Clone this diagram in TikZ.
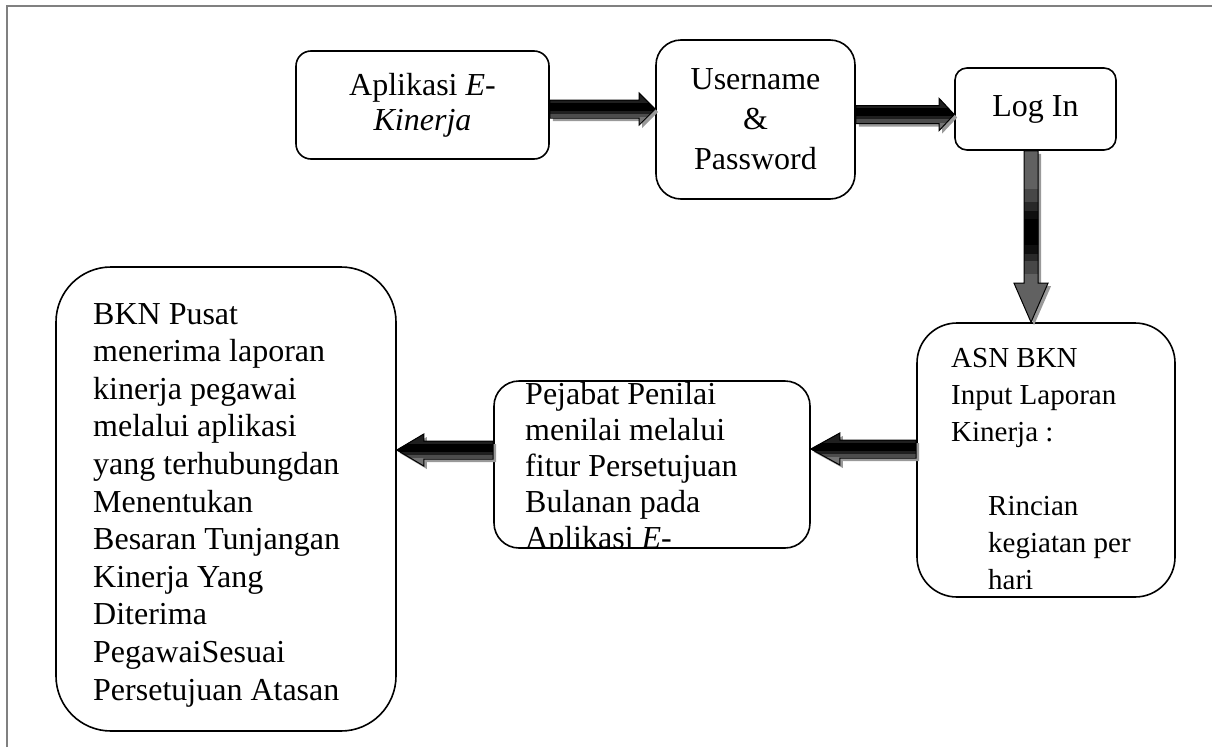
\documentclass[tikz,border=0pt]{standalone}
\usepackage{fontspec}
\setmainfont{Liberation Serif}
\usetikzlibrary{calc}
\newcommand\ppband[3]{% #1 color, #2 from, #3 to (fractions of the height)
  \fill[#1] ($(path picture bounding box.north west)!#2!(path picture bounding box.south west)$) rectangle ($(path picture bounding box.north east)!#3!(path picture bounding box.south east)$);}
\newcommand\hbands{%
  \ppband{black!55}{0}{1}\ppband{black!70}{0}{0.75}\ppband{black!88}{0}{0.65}\ppband{black}{0.3}{0.56}}
\newcommand\vbands{%
  \ppband{black!62}{0}{1}\ppband{black!72}{0.22}{0.72}\ppband{black!84}{0.3}{0.64}%
  \ppband{black!94}{0.35}{0.6}\ppband{black}{0.4}{0.55}}
\begin{document}
\begin{tikzpicture}[x=1pt,y=-1pt,
  box/.style={draw=black, line width=1.6pt, rounded corners=#1, fill=white, inner sep=0pt},
  box/.default=15pt,
  arrowbase/.style={draw=black, line width=1pt,
    preaction={fill=black!40, transform canvas={xshift=3pt, yshift=-3pt}}},
  barrow/.style={arrowbase, path picture={\hbands}},
  varrow/.style={arrowbase, path picture={\vbands}},
  txt/.style={anchor=north west, inner sep=0pt, align=left},
  frameline/.style={draw=black!50, line width=2pt}]
\useasboundingbox (0,0) rectangle (1212,747);
\path[frameline] (7,747) -- (7,6) -- (1212,6);

% boxes
\node[box=15pt, minimum width=253pt, minimum height=108pt, align=center,
  font=\fontsize{32}{37}\selectfont] (app) at (422.5,105) {\raisebox{-2pt}{Aplikasi \textit{E}-}\\\textit{Kinerja}};
\node[box=25pt, minimum width=199pt, minimum height=159pt, align=center,
  font=\fontsize{32}{40}\selectfont] (user) at (755.5,119.5) {Username\\\&\\Password};
\node[box=12pt, minimum width=161pt, minimum height=82pt, align=center,
  font=\fontsize{32}{38}\selectfont] (login) at (1035.5,109) {Log In};
\node[box=40pt, minimum width=258pt, minimum height=274pt] (asn) at (1046,460) {};
\node[box=25pt, minimum width=316pt, minimum height=167pt] (pej) at (652,464.5) {};
\node[box=55pt, minimum width=340pt, minimum height=464pt] (bkn) at (226,499) {};

% texts
\node[txt, font=\fontsize{32}{37.6}\selectfont] (bkntext) at (93,303)
  {BKN Pusat\\menerima laporan\\kinerja pegawai\\melalui aplikasi\\yang terhubungdan\\Menentukan\\Besaran Tunjangan\\Kinerja Yang\\Diterima\\PegawaiSesuai\\Persetujuan Atasan};
\begin{scope}
\clip (494,370) rectangle (810,546.5);
\node[txt, font=\fontsize{32}{36}\selectfont] (pejtext) at (525,382)
  {Pejabat Penilai\\menilai melalui\\fitur Persetujuan\\Bulanan pada\\Aplikasi \textit{E}-};
\end{scope}
\node[txt, font=\fontsize{29}{37}\selectfont] (asntext) at (951,348)
  {ASN BKN\\Input Laporan\\Kinerja :\\[37pt]\hspace*{37pt}Rincian\\\hspace*{37pt}kegiatan per\\\hspace*{37pt}hari};

% block arrows
% app -> user
\path[barrow] ($(app.east)+(0,4)+(0,-9)$) -- ($(user.west)+(0,-10.5)+(-16,-9)$)
  -- ($(user.west)+(0,-10.5)+(-16,-16)$) -- ($(user.west)+(0,-10.5)$)
  -- ($(user.west)+(0,-10.5)+(-16,16)$) -- ($(user.west)+(0,-10.5)+(-16,9)$)
  -- ($(app.east)+(0,4)+(0,9)$) -- cycle;
% user -> login
\path[barrow] ($(user.east)+(0,-5)+(0,-9)$) -- ($(login.west)+(0,5.5)+(-15,-9)$)
  -- ($(login.west)+(0,5.5)+(-15,-16)$) -- ($(login.west)+(0,5.5)$)
  -- ($(login.west)+(0,5.5)+(-15,16)$) -- ($(login.west)+(0,5.5)+(-15,9)$)
  -- ($(user.east)+(0,-5)+(0,9)$) -- cycle;
% login -> asn
\path[varrow] ($(login.south)+(-4.5,0)+(-7,0)$) -- ($(asn.north)+(-15,0)+(-7,-39)$)
  -- ($(asn.north)+(-15,0)+(-17,-39)$) -- ($(asn.north)+(-15,0)$)
  -- ($(asn.north)+(-15,0)+(17,-39)$) -- ($(asn.north)+(-15,0)+(7,-39)$)
  -- ($(login.south)+(-4.5,0)+(7,0)$) -- cycle;
% asn -> pej
\path[barrow] ($(asn.west)+(0,-11)+(0,-9)$) -- ($(pej.east)+(0,-15.5)+(29,-9)$)
  -- ($(pej.east)+(0,-15.5)+(29,-16)$) -- ($(pej.east)+(0,-15.5)$)
  -- ($(pej.east)+(0,-15.5)+(29,16)$) -- ($(pej.east)+(0,-15.5)+(29,9)$)
  -- ($(asn.west)+(0,-11)+(0,9)$) -- cycle;
% pej -> bkn
\path[barrow] ($(pej.west)+(0,-14.5)+(0,-9)$) -- ($(bkn.east)+(0,-49)+(27,-9)$)
  -- ($(bkn.east)+(0,-49)+(27,-16)$) -- ($(bkn.east)+(0,-49)$)
  -- ($(bkn.east)+(0,-49)+(27,16)$) -- ($(bkn.east)+(0,-49)+(27,9)$)
  -- ($(pej.west)+(0,-14.5)+(0,9)$) -- cycle;
\end{tikzpicture}
\end{document}
